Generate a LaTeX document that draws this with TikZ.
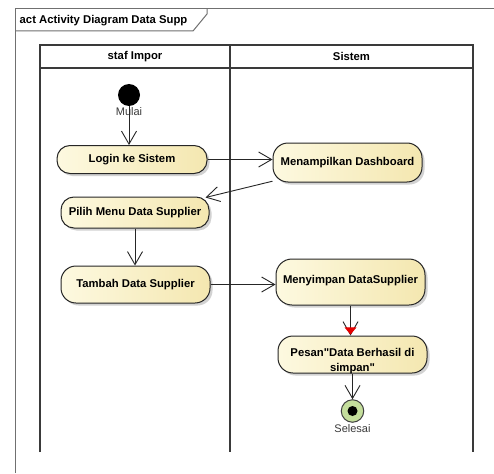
\documentclass[tikz,border=0pt]{standalone}
\usepackage{fontspec}
\newfontfamily\uifont{Liberation Sans}
\usetikzlibrary{arrows.meta,shapes.geometric,shadows,calc}

\definecolor{actfillA}{HTML}{FDF9E0}
\definecolor{actfillB}{HTML}{F4E7B0}
\definecolor{lanecol}{HTML}{3A3A3A}
\definecolor{framecol}{HTML}{707070}
\definecolor{finalfill}{HTML}{C4DE9C}
\definecolor{labelcol}{HTML}{3A3A3A}

\tikzset{
  boldtext/.style={font=\uifont\bfseries\fontsize{11.3}{14.5}\selectfont},
  act/.style={draw=black!85, line width=1pt, rounded corners=13pt,
    left color=actfillA, right color=actfillB,
    drop shadow={shadow xshift=2.5pt, shadow yshift=-2.5pt, opacity=0.25, fill=black!70},
    boldtext, align=center, inner sep=0pt},
  flow/.style={draw=black!85, line width=0.9pt,
    -{Straight Barb[length=13pt,width=15pt,line width=0.9pt]}},
  lane/.style={draw=lanecol, line width=1.3pt},
  framestyle/.style={draw=framecol, line width=1pt},
  initial/.style={circle, fill=black, minimum size=22pt, inner sep=0pt},
  final/.style={circle, draw=black!75, line width=1pt, fill=finalfill,
    minimum size=22.5pt, inner sep=0pt,
    path picture={\fill[black] (path picture bounding box.center) circle (5pt);}},
  statelabel/.style={font=\uifont\fontsize{11}{12}\selectfont, text=labelcol, inner sep=1pt},
  redmark/.style={isosceles triangle, shape border rotate=-90, fill=red!90!black,
    draw=red!90!black, isosceles triangle apex angle=80, minimum size=6pt, inner sep=0pt},
}

\begin{document}
\begin{tikzpicture}[x=1pt, y=-1pt]
  \useasboundingbox (0,0) rectangle (494,473);
  \fill[white] (0,0) rectangle (494,473);

  % diagram frame and name tab
  \draw[framestyle] (15,473) -- (15,9) -- (494,9);
  \draw[framestyle] (15,31) -- (193,31) -- (207,14) -- (207,9);
  \node[boldtext, anchor=west, inner sep=0pt] (title) at (19.5,20.5) {act Activity Diagram Data Supp};

  % swimlanes
  \draw[lane] (40,452) -- (40,45) -- (473,45) -- (473,452);
  \draw[lane] (40,68) -- (473,68);
  \draw[lane] (230,45) -- (230,452);
  \node[boldtext] (laneA) at (135,56.5) {staf Impor};
  \node[boldtext] (laneB) at (351.5,56.5) {Sistem};

  % activities
  \node[initial, label={[statelabel, label distance=0pt]below:Mulai}] (start) at (129,95) {};
  \node[act, minimum width=150pt, minimum height=28pt] (login) at (132,159.5) {Login ke Sistem};
  \node[act, minimum width=149pt, minimum height=39pt, rounded corners=15pt] (dash) at (347.5,162.5)
    {\raisebox{3pt}{Menampilkan Dashboard}};
  \node[act, minimum width=148pt, minimum height=31pt] (pilih) at (135,212.5)
    {\raisebox{-1.5pt}{Pilih Menu Data Supplier}};
  \node[act, minimum width=149pt, minimum height=37pt, rounded corners=15pt] (tambah) at (135.5,284.5)
    {Tambah Data Supplier};
  \node[act, minimum width=149pt, minimum height=46pt, rounded corners=16pt] (simpan) at (350.5,282)
    {\raisebox{5.5pt}{Menyimpan DataSupplier}};
  \node[act, minimum width=149pt, minimum height=37pt, rounded corners=15pt,
    label={[boldtext, align=center, yshift=-6.5pt]center:{Pesan"Data Berhasil di\\simpan"}}] (pesan) at (352.5,354.5) {};
  \node[final, label={[statelabel, label distance=1pt]below:Selesai}] (end) at (352.5,411) {};

  % control flows
  \draw[flow] (start) -- (start |- login.north);
  \draw[flow] (login.east) -- (login.east -| dash.west);
  \draw[flow] (dash.194) -- ([xshift=-4pt, yshift=-1pt]pilih.north east);
  \draw[flow] (pilih.south) -- (pilih.south |- tambah.north);
  \draw[flow] (tambah.east) -- (tambah.east -| simpan.west);
  \draw[flow] (simpan.south) -- node[redmark, pos=1, anchor=apex, yshift=1pt] {} (simpan.south |- pesan.north);
  \draw[flow] (pesan.south) -- (end);
\end{tikzpicture}
\end{document}
